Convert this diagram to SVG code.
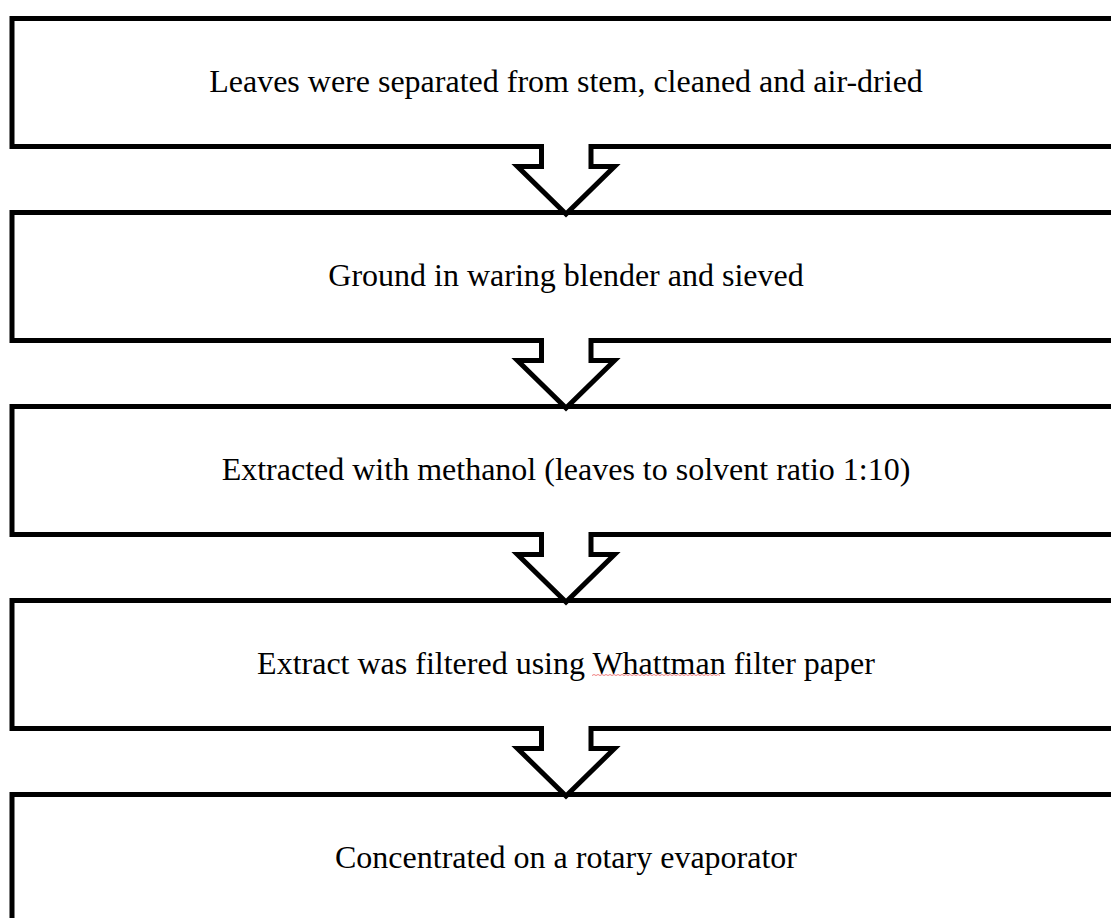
<svg xmlns="http://www.w3.org/2000/svg" width="1111" height="918" viewBox="0 0 1111 918">
<style>
.box{fill:#fff;stroke:#000;stroke-width:5;stroke-linejoin:miter}
.arr{fill:#fff;stroke:#000;stroke-width:5;stroke-linejoin:miter}
.t{font-family:"Liberation Serif","Times New Roman",serif;font-size:32px;fill:#000;text-anchor:middle}
</style>
<rect width="1111" height="918" fill="#fff"/>
<g id="n1">
<path class="box" d="M1120 18.5 H12 V146.5 H1120"/>
<text class="t" x="566" y="92">Leaves were separated from stem, cleaned and air-dried</text>
</g>
<g id="n2">
<path class="box" d="M1120 212.5 H12 V340.5 H1120"/>
<text class="t" x="566" y="286">Ground in waring blender and sieved</text>
</g>
<g id="n3">
<path class="box" d="M1120 406.5 H12 V534.5 H1120"/>
<text class="t" x="566" y="480">Extracted with methanol (leaves to solvent ratio 1:10)</text>
</g>
<g id="n4">
<path class="box" d="M1120 600.5 H12 V728.5 H1120"/>
<text class="t" x="566" y="674">Extract was filtered using Whattman filter paper</text>
<path d="M592 675.5 l2 -1 l2 1 l2 -1 l2 1 l2 -1 l2 1 l2 -1 l2 1 l2 -1 l2 1 l2 -1 l2 1 l2 -1 l2 1 l2 -1 l2 1 l2 -1 l2 1 l2 -1 l2 1 l2 -1 l2 1 l2 -1 l2 1 l2 -1 l2 1 l2 -1 l2 1 l2 -1 l2 1 l2 -1 l2 1 l2 -1 l2 1 l2 -1 l2 1 l2 -1 l2 1 l2 -1 l2 1 l2 -1 l2 1 l2 -1 l2 1 l2 -1 l2 1 l2 -1 l2 1 l2 -1 l2 1 l2 -1 l2 1 l2 -1 l2 1 l2 -1 l2 1 l2 -1 l2 1 l2 -1 l2 1 l2 -1 l2 1 l2 -1 l2 1" fill="none" stroke="#f08080" stroke-width="1"/>
</g>
<g id="n5">
<path class="box" d="M1120 794.5 H12 V922.5 H1120"/>
<text class="t" x="566" y="868">Concentrated on a rotary evaporator</text>
</g>
<g id="connectors">
<path class="arr" d="M541.5 144 V166.5 H517.5 L566 214 L614.5 166.5 H591 V144"/>
<path class="arr" d="M541.5 338 V360.5 H517.5 L566 408 L614.5 360.5 H591 V338"/>
<path class="arr" d="M541.5 532 V554.5 H517.5 L566 602 L614.5 554.5 H591 V532"/>
<path class="arr" d="M541.5 726 V748.5 H517.5 L566 796 L614.5 748.5 H591 V726"/>
</g>
</svg>
